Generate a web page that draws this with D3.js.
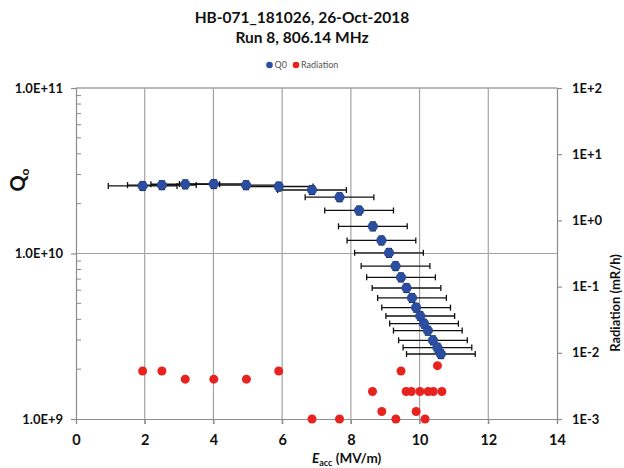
<!DOCTYPE html>
<html><head><meta charset="utf-8">
<script src="https://cdn.jsdelivr.net/npm/d3@7"></script>
<style>
body{margin:0;background:#fff;}
svg{display:block;font-family:Lato,"Liberation Sans",sans-serif;}
</style></head>
<body><svg id="c" width="624" height="468"></svg>
<script>
// ---- data ----
const titleLines = ["HB-071_181026, 26-Oct-2018", "Run 8, 806.14 MHz"];
const qEacc = [1.94,2.50,3.18,4.01,4.95,5.90,6.87,7.67,8.24,8.64,8.89,9.11,9.30,9.46,9.62,9.78,9.90,10.02,10.13,10.24,10.39,10.52,10.62];
const qValues = [2.56e10,2.59e10,2.62e10,2.63e10,2.59e10,2.54e10,2.42e10,2.19e10,1.82e10,1.46e10,1.20e10,1.01e10,8.40e9,7.18e9,6.19e9,5.39e9,4.71e9,4.19e9,3.77e9,3.42e9,2.99e9,2.70e9,2.47e9];
const eaccErr = 1.0;      // MV/m, horizontal error bar half-width
const qErrFrac = 0.06;    // relative Q0 error
const radEacc = [1.94,2.50,3.18,4.01,4.96,5.90,6.87,7.67,8.63,8.90,9.31,9.46,9.61,9.76,9.90,10.01,10.16,10.25,10.40,10.52,10.65];
const radValues = [0.0053,0.0053,0.0040,0.0040,0.0040,0.0053,0.0010,0.0010,0.0026,0.0013,0.0010,0.0053,0.0026,0.0026,0.0013,0.0026,0.0010,0.0026,0.0026,0.0064,0.0026];
const xTicks = [0,2,4,6,8,10,12,14];
const qTicks = [1e9,1e10,1e11];
const qTickLabels = ["1.0E+9","1.0E+10","1.0E+11"];
const radTicks = [1e-3,1e-2,1e-1,1,10,100];
const radTickLabels = ["1E-3","1E-2","1E-1","1E+0","1E+1","1E+2"];
const legendItems = [{name:"Q0", color:"#2b4ea2"},{name:"Radiation", color:"#e8221f"}];

// ---- layout ----
const L = 76, R = 557, T = 88, B = 419;
const svg = d3.select("#c");
const x = d3.scaleLinear().domain([0,14]).range([L,R]);
const yQ = d3.scaleLog().domain([1e9,1e11]).range([B,T]);
const yR = d3.scaleLog().domain([1e-3,1e2]).range([B,T]);
const gridC = "#a3a3a3", axisC = "#8c8c8c";

// title
svg.selectAll("text.title").data(titleLines).enter().append("text")
  .attr("x",302).attr("y",(d,i)=>23+i*20).attr("text-anchor","middle")
  .attr("font-size",15.5).attr("font-weight","bold").attr("fill","#111").text(d=>d);

// legend
const lg = svg.append("g");
const lgX = [269.5, 296];
legendItems.forEach((d,i)=>{
  lg.append("circle").attr("cx",lgX[i]).attr("cy",65).attr("r",3.3).attr("fill",d.color);
  lg.append("text").attr("x",lgX[i]+5).attr("y",68).attr("font-size",9).attr("fill","#555").text(d.name);
});

// grid: vertical
svg.append("g").selectAll("line").data(xTicks.filter(t=>t>0&&t<14)).enter().append("line")
  .attr("x1",d=>x(d)).attr("x2",d=>x(d)).attr("y1",T).attr("y2",B+5)
  .attr("stroke",gridC).attr("stroke-width",1.2);
// grid: horizontal at major Q ticks
svg.append("g").selectAll("line").data(qTicks.filter(t=>t>1e9)).enter().append("line")
  .attr("x1",L).attr("x2",R).attr("y1",d=>yQ(d)).attr("y2",d=>yQ(d))
  .attr("stroke",gridC).attr("stroke-width",1.2);

// x axis
const xAxis = d3.axisBottom(x).tickValues(xTicks).tickSize(5).tickFormat(d3.format("d"));
const gx = svg.append("g").attr("transform",`translate(0,${B})`).call(xAxis);
gx.select(".domain").attr("stroke",axisC).attr("stroke-width",1.2);
gx.selectAll(".tick line").attr("stroke",axisC).attr("stroke-width",1.2);
gx.selectAll(".tick text").attr("font-size",14.5).attr("font-weight","bold").attr("fill","#111")
  .attr("font-family","Lato,sans-serif").attr("dy",0).attr("y",26);

// left axis (major outward, minor inward)
const gyl = svg.append("g").attr("transform",`translate(${L},0)`)
  .call(d3.axisLeft(yQ).tickValues(qTicks).tickSize(5).tickFormat((d,i)=>qTickLabels[i]));
gyl.select(".domain").attr("stroke",axisC).attr("stroke-width",1.2);
gyl.selectAll(".tick line").attr("stroke",axisC).attr("stroke-width",1.2);
gyl.selectAll(".tick text").attr("font-size",13).attr("font-weight","bold").attr("fill","#111")
  .attr("font-family","Lato,sans-serif").attr("x",-13);
const minorQ = yQ.ticks().filter(t=>!qTicks.includes(t));
svg.append("g").selectAll("line").data(minorQ).enter().append("line")
  .attr("x1",L).attr("x2",L+5).attr("y1",d=>yQ(d)).attr("y2",d=>yQ(d))
  .attr("stroke",axisC).attr("stroke-width",1);
// top border
svg.append("line").attr("x1",L).attr("x2",R).attr("y1",T).attr("y2",T).attr("stroke",gridC).attr("stroke-width",1.2);

// right axis
const gyr = svg.append("g").attr("transform",`translate(${R},0)`)
  .call(d3.axisRight(yR).tickValues(radTicks).tickSize(5).tickFormat((d,i)=>radTickLabels[i]));
gyr.select(".domain").attr("stroke",axisC).attr("stroke-width",1.2);
gyr.selectAll(".tick line").attr("stroke",axisC).attr("stroke-width",1.2);
gyr.selectAll(".tick text").attr("font-size",13).attr("font-weight","bold").attr("fill","#111")
  .attr("font-family","Lato,sans-serif").attr("x",15);

// axis titles
const qLab = svg.append("text").attr("transform","translate(25,180) rotate(-90)")
  .attr("text-anchor","middle").attr("font-weight","bold").attr("fill","#111");
qLab.append("tspan").attr("font-size",20).text("Q");
qLab.append("tspan").attr("font-size",12).attr("dy",4).text("o");

svg.append("text").attr("transform","translate(620,303) rotate(-90)")
  .attr("text-anchor","middle").attr("font-weight","bold").attr("font-size",13).attr("fill","#111")
  .text("Radiation (mR/h)");

const xLab = svg.append("text").attr("x",312).attr("y",463).attr("font-weight","bold").attr("fill","#111");
xLab.append("tspan").attr("font-size",13.5).attr("font-style","italic").text("E");
xLab.append("tspan").attr("font-size",9).attr("dy",2.5).text("acc");
xLab.append("tspan").attr("font-size",13.5).attr("dy",-2.5).text(" (MV/m)");

// error bars
const qData = qEacc.map((e,i)=>({e, q:qValues[i]}));
const eb = svg.append("g").attr("stroke","#111").attr("stroke-width",1.3);
qData.forEach(d=>{
  const cy = yQ(d.q), x0 = x(d.e-eaccErr), x1 = x(d.e+eaccErr);
  eb.append("line").attr("x1",x0).attr("x2",x1).attr("y1",cy).attr("y2",cy);
  eb.append("line").attr("x1",x0).attr("x2",x0).attr("y1",cy-3).attr("y2",cy+3);
  eb.append("line").attr("x1",x1).attr("x2",x1).attr("y1",cy-3).attr("y2",cy+3);
  const cx = x(d.e), ya = yQ(d.q*(1+qErrFrac)), yb = yQ(d.q*(1-qErrFrac));
  eb.append("line").attr("x1",cx).attr("x2",cx).attr("y1",ya).attr("y2",yb);
  eb.append("line").attr("x1",cx-3).attr("x2",cx+3).attr("y1",ya).attr("y2",ya);
  eb.append("line").attr("x1",cx-3).attr("x2",cx+3).attr("y1",yb).attr("y2",yb);
});

// markers
svg.append("g").selectAll("circle").data(qData).enter().append("circle")
  .attr("cx",d=>x(d.e)).attr("cy",d=>yQ(d.q)).attr("r",4.8)
  .attr("fill",legendItems[0].color).attr("stroke","#22418c").attr("stroke-width",0.6);
svg.append("g").selectAll("circle").data(radEacc.map((e,i)=>({e,r:radValues[i]}))).enter().append("circle")
  .attr("cx",d=>x(d.e)).attr("cy",d=>yR(d.r)).attr("r",4.5)
  .attr("fill",legendItems[1].color);
</script></body></html>
